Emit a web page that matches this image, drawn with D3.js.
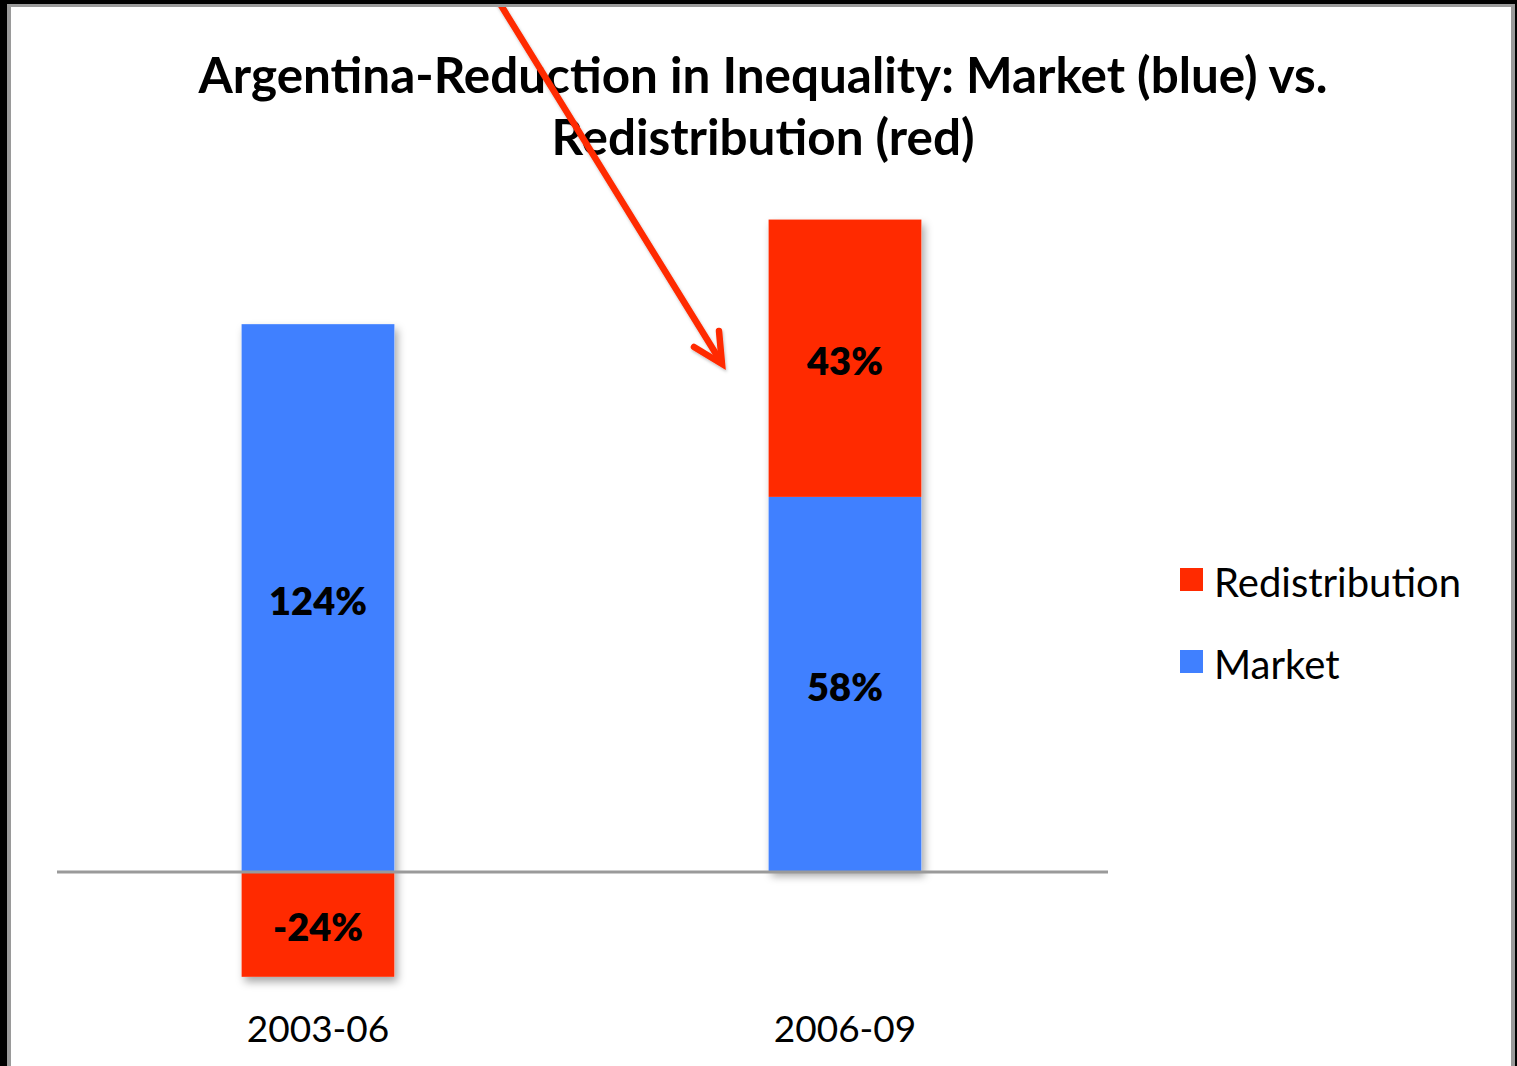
<!DOCTYPE html>
<html>
<head>
<meta charset="utf-8">
<script src="https://cdn.jsdelivr.net/npm/d3@7"></script>
<style>
  html, body { margin: 0; padding: 0; background: #fff; }
  svg { display: block; }
  text { font-family: Lato, "Open Sans", sans-serif; }
</style>
</head>
<body>
<svg id="chart" width="1517" height="1066"></svg>
<script>
// Periods and the overall fall in inequality for each (index points)
const periods = ["2003-06", "2006-09"];
const totalDrop = [4.41, 6.45];
// Share of each period's fall coming from market incomes vs. redistribution (%)
const marketShare = [124, 58];
const redistShare = [-24, 43];
const seriesNames = ["Redistribution", "Market"];
const colors = { Market: "#4080ff", Redistribution: "#ff2a00" };

const titleLines = ["Argentina-Reduction in Inequality: Market (blue) vs.", "Redistribution (red)"];

const svg = d3.select("#chart");
const W = 1517, H = 1066;

// soft shadow under the bars
const defs = svg.append("defs");
const sh = defs.append("filter").attr("id", "barShadow")
  .attr("x", "-20%").attr("y", "-20%").attr("width", "140%").attr("height", "140%");
sh.append("feDropShadow").attr("dx", 3).attr("dy", 5).attr("stdDeviation", 4)
  .attr("flood-color", "#000").attr("flood-opacity", 0.35);
const ash = defs.append("filter").attr("id", "arrowShadow")
  .attr("x", "-20%").attr("y", "-20%").attr("width", "140%").attr("height", "140%");
ash.append("feDropShadow").attr("dx", 1).attr("dy", 2).attr("stdDeviation", 1.5)
  .attr("flood-color", "#000").attr("flood-opacity", 0.25);

// scales
const x = d3.scaleBand().domain(periods).range([54.5, 1108.5]).padding(0);
const y = d3.scaleLinear().domain([-1.1, 6.6]).range([981, 211]);
const barW = x.bandwidth() * 0.29;
const zeroLine = [57, 1108];

// stacked segments: market from zero, redistribution stacked on top when positive,
// hanging below zero when negative
const segments = [];
periods.forEach((p, i) => {
  const m = marketShare[i] / 100 * totalDrop[i];
  const r = redistShare[i] / 100 * totalDrop[i];
  segments.push({ period: p, series: "Market", y0: 0, y1: m, share: marketShare[i] });
  if (r >= 0) segments.push({ period: p, series: "Redistribution", y0: m, y1: m + r, share: redistShare[i] });
  else segments.push({ period: p, series: "Redistribution", y0: r, y1: 0, share: redistShare[i] });
});

const cx = p => x(p) + x.bandwidth() / 2;

// shadows drawn as a single block per bar so segments stay flush
const barGroup = svg.append("g");
periods.forEach(p => {
  const segs = segments.filter(s => s.period === p);
  const lo = d3.min(segs, s => Math.min(s.y0, s.y1));
  const hi = d3.max(segs, s => Math.max(s.y0, s.y1));
  barGroup.append("rect")
    .attr("x", cx(p) - barW / 2).attr("width", barW)
    .attr("y", y(hi)).attr("height", y(lo) - y(hi))
    .attr("fill", "#fff").attr("filter", "url(#barShadow)");
});

barGroup.selectAll("rect.seg").data(segments).join("rect")
  .attr("class", "seg")
  .attr("x", d => cx(d.period) - barW / 2)
  .attr("width", barW)
  .attr("y", d => y(Math.max(d.y0, d.y1)))
  .attr("height", d => Math.abs(y(d.y0) - y(d.y1)))
  .attr("fill", d => colors[d.series]);

// zero line
svg.append("line")
  .attr("x1", zeroLine[0]).attr("x2", zeroLine[1])
  .attr("y1", y(0) + 1).attr("y2", y(0) + 1)
  .attr("stroke", "#9a9a9a").attr("stroke-width", 3);

// value labels
svg.append("g").selectAll("text").data(segments).join("text")
  .attr("x", d => cx(d.period))
  .attr("y", d => (y(d.y0) + y(d.y1)) / 2)
  .attr("dy", "0.45em")
  .attr("text-anchor", "middle")
  .attr("font-size", 38).attr("font-weight", 800).attr("fill", "#000")
  .text(d => d.share + "%");

// category axis labels
const xAxis = d3.axisBottom(x).tickSize(0).tickPadding(0);
const axG = svg.append("g").attr("transform", `translate(0, 1016)`).call(xAxis);
axG.select(".domain").remove();
axG.selectAll("text")
  .attr("font-size", 37).attr("fill", "#000")
  .attr("font-family", "Lato, 'Open Sans', sans-serif")
  .attr("dy", "0.71em");

// legend
const leg = svg.append("g").attr("transform", "translate(1180, 568)");
seriesNames.forEach((n, i) => {
  const g = leg.append("g").attr("transform", `translate(0, ${i * 82})`);
  g.append("rect").attr("width", 23).attr("height", 23).attr("fill", colors[n]);
  g.append("text").attr("x", 34).attr("y", 29)
    .attr("font-size", 40).attr("fill", "#000").text(n);
});

// title, sized so the first line spans its measured width
const title = svg.append("g");
const t1 = title.append("text").attr("x", 763).attr("y", 93)
  .attr("text-anchor", "middle").attr("font-weight", 700).attr("font-size", 46)
  .text(titleLines[0]);
const w1 = t1.node().getComputedTextLength();
const fs = 46 * 1129 / w1;
t1.attr("font-size", fs);
title.append("text").attr("x", 763).attr("y", 155)
  .attr("text-anchor", "middle").attr("font-weight", 700).attr("font-size", fs)
  .text(titleLines[1]);

// red pointer arrow
const arrow = svg.append("g").attr("filter", "url(#arrowShadow)")
  .attr("stroke", "#ff2a00").attr("stroke-width", 6.5)
  .attr("stroke-linecap", "round").attr("fill", "none");
arrow.append("line").attr("x1", 494).attr("y1", -6).attr("x2", 721).attr("y2", 362);
arrow.append("path").attr("d", "M694,347 L722,364 L719,331")
  .attr("stroke-linejoin", "miter");

// frame
svg.append("rect").attr("x", 0).attr("y", 0).attr("width", 7).attr("height", H).attr("fill", "#000");
svg.append("rect").attr("x", 7).attr("y", 4).attr("width", 4).attr("height", H).attr("fill", "#9a9a9a");
svg.append("rect").attr("x", 0).attr("y", 0).attr("width", W).attr("height", 4).attr("fill", "#000");
svg.append("rect").attr("x", 7).attr("y", 4).attr("width", W - 13).attr("height", 3).attr("fill", "#9a9a9a");
svg.append("rect").attr("x", 1511).attr("y", 4).attr("width", 4).attr("height", H).attr("fill", "#9a9a9a");
svg.append("rect").attr("x", 1515).attr("y", 0).attr("width", 2).attr("height", H).attr("fill", "#000");
</script>
</body>
</html>
